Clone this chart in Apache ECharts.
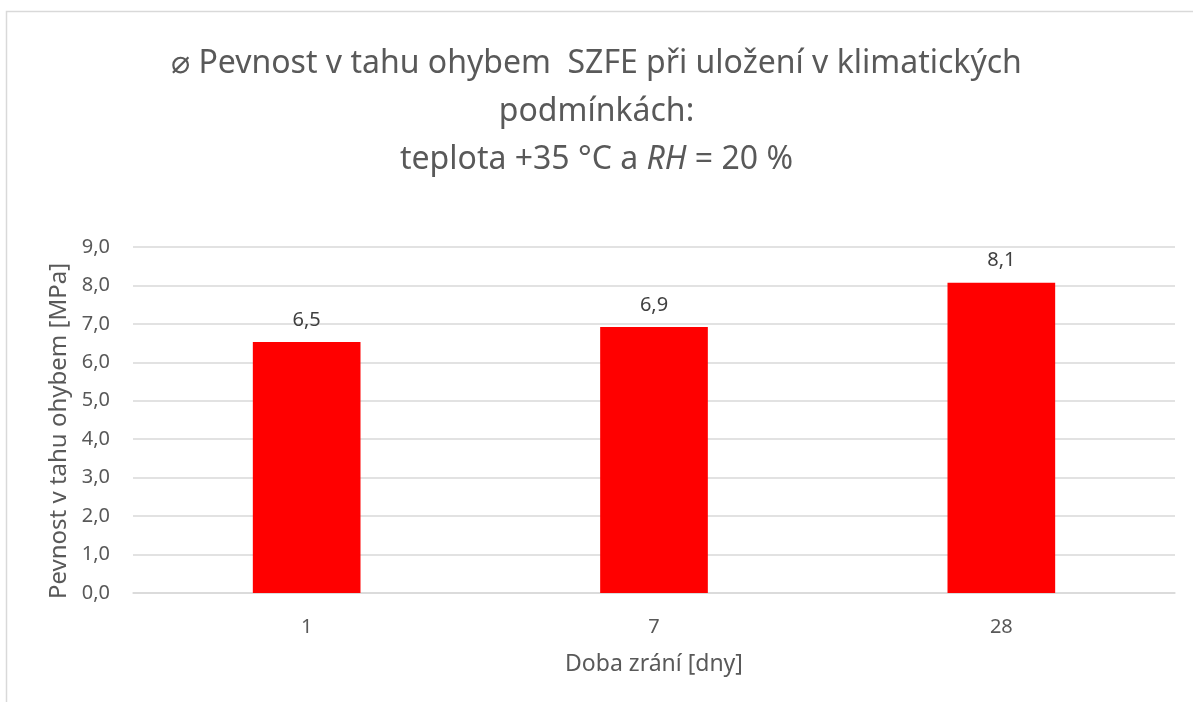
<!DOCTYPE html>
<html>
<head>
<meta charset="utf-8">
<script src="https://cdn.jsdelivr.net/npm/echarts@6/dist/echarts.min.js"></script>
<style>
  html, body { margin: 0; padding: 0; background: #fff; }
  #chart { width: 1193px; height: 702px; }
</style>
</head>
<body>
<div id="chart"></div>
<script>
// data
const days = ['1', '7', '28']
const strength = [6.53, 6.92, 8.07]
const yTicks = { min: 0, max: 9, interval: 1 }

const font = 'Noto Sans'
const grey = '#595959'

const chart = echarts.init(document.getElementById('chart'))

const option = {
  animation: false,
  backgroundColor: '#fff',
  textStyle: { fontFamily: font },
  // chart frame (left and top edge are visible)
  graphic: [{
    type: 'rect',
    shape: { x: 6.5, y: 11.5, width: 1400, height: 900 },
    style: { fill: 'none', stroke: '#d9d9d9', lineWidth: 1.5 },
    silent: true
  }],
  title: {
    text: '{n|⌀ Pevnost v tahu ohybem  SZFE při uložení v klimatických}\n{n|podmínkách:}\n{n|teplota +35 °C a }{i|RH}{n| = 20 %}',
    left: 'center',
    top: 35,
    textStyle: {
      align: 'center',
      fontWeight: 'normal',
      rich: {
        n: { fontFamily: font, fontSize: 32, color: grey, lineHeight: 48, fontWeight: 'normal' },
        i: { fontFamily: font, fontSize: 32, color: grey, lineHeight: 48, fontWeight: 'normal', fontStyle: 'italic' }
      }
    }
  },
  grid: { left: 133, right: 18, top: 247, bottom: 109 },
  xAxis: {
    type: 'category',
    data: days,
    name: 'Doba zrání [dny]',
    nameLocation: 'middle',
    nameGap: 60,
    nameTextStyle: { fontFamily: font, fontSize: 23, color: grey },
    axisLine: { lineStyle: { color: '#d9d9d9', width: 1.5 } },
    axisTick: { show: false },
    axisLabel: { fontFamily: font, fontSize: 20, color: grey, margin: 24 }
  },
  yAxis: {
    type: 'value',
    min: yTicks.min,
    max: yTicks.max,
    interval: yTicks.interval,
    name: 'Pevnost v tahu ohybem [MPa]',
    nameLocation: 'middle',
    nameGap: 62,
    nameTextStyle: { fontFamily: font, fontSize: 24, color: grey, padding: [0, 22, 0, 0] },
    axisLine: { show: false },
    axisTick: { show: false },
    splitLine: { lineStyle: { color: '#d9d9d9', width: 1.5 } },
    axisLabel: {
      fontFamily: font, fontSize: 20, color: grey, margin: 23,
      formatter: v => v.toFixed(1).replace('.', ',')
    }
  },
  series: [{
    type: 'bar',
    data: strength,
    barWidth: '31%',
    itemStyle: { color: '#ff0000' },
    label: {
      show: true,
      position: 'top',
      distance: 12,
      fontFamily: font,
      fontSize: 20,
      color: '#404040',
      formatter: p => p.value.toFixed(1).replace('.', ',')
    }
  }]
}

chart.setOption(option)
</script>
</body>
</html>
